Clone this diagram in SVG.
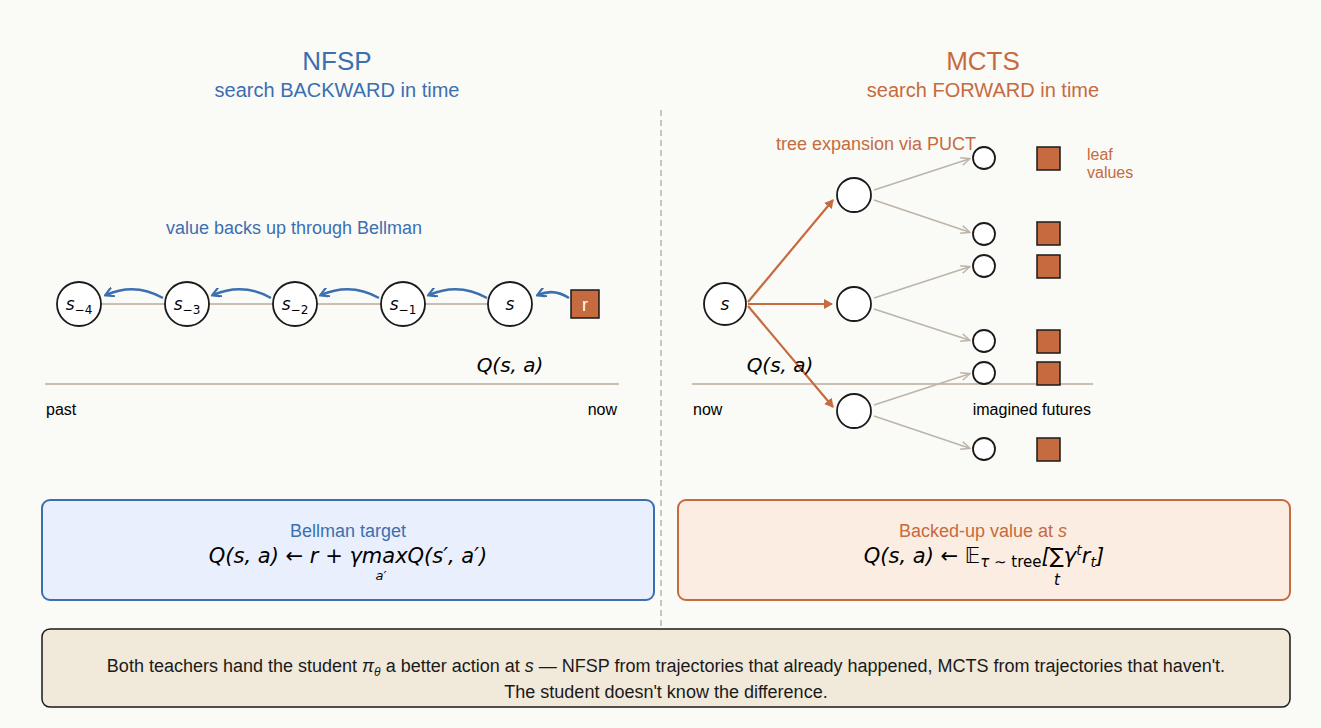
<svg xmlns="http://www.w3.org/2000/svg" width="1321" height="728" viewBox="0 0 1321 728">
<style>
text{font-family:"Liberation Sans",Arial,sans-serif}
.m{font-family:"DejaVu Sans",sans-serif;font-style:italic}
.blue{fill:#3b6fb0}.or{fill:#c66a40}
.n{fill:#fff;stroke:#1a1a1a;stroke-width:1.8}
.sq{fill:#c66a40;stroke:#1a1a1a;stroke-width:1.5}
.bl{stroke:#3b6fb0;stroke-width:2.5;fill:none;marker-end:url(#ab)}
.ol{stroke:#c66a40;stroke-width:2.2;fill:none;marker-end:url(#ao)}
.gl{stroke:#bdb4a8;stroke-width:1.5;fill:none;marker-end:url(#ag)}
</style>
<defs>
<marker id="ab" markerWidth="10" markerHeight="10" refX="8" refY="5" orient="auto" markerUnits="userSpaceOnUse"><path d="M0,0 L9,5 L0,10" fill="none" stroke="#3b6fb0" stroke-width="2.2"/></marker>
<marker id="ao" markerWidth="10" markerHeight="10" refX="8" refY="5" orient="auto" markerUnits="userSpaceOnUse"><path d="M0,0 L9,5 L0,10 z" fill="#c66a40"/></marker>
<marker id="ag" markerWidth="10" markerHeight="10" refX="8" refY="5" orient="auto" markerUnits="userSpaceOnUse"><path d="M0,1 L9,5 L0,9" fill="none" stroke="#bdb4a8" stroke-width="1.5"/></marker>
</defs>
<rect width="1321" height="728" fill="#fafaf6"/>
<text x="337" y="70" font-size="26" text-anchor="middle" class="blue">NFSP</text>
<text x="337" y="97" font-size="20" text-anchor="middle" class="blue">search BACKWARD in time</text>
<text x="983" y="70" font-size="26" text-anchor="middle" class="or">MCTS</text>
<text x="983" y="97" font-size="20" text-anchor="middle" class="or">search FORWARD in time</text>
<line x1="661" y1="110" x2="661" y2="628" stroke="#b5b5b5" stroke-width="1.5" stroke-dasharray="6,4"/>
<text x="294" y="234" font-size="18" text-anchor="middle" class="blue">value backs up through Bellman</text>
<text x="876" y="150" font-size="18" text-anchor="middle" class="or">tree expansion via PUCT</text>
<text x="1087" y="160" font-size="16" class="or">leaf</text>
<text x="1087" y="178" font-size="16" class="or">values</text>
<g id="connectors">
<line x1="101" y1="304" x2="488" y2="304" stroke="#c9c0b2" stroke-width="2"/>
<path class="bl" d="M163,298 Q135,282 106,295"/>
<path class="bl" d="M271,298 Q243,282 213,295"/>
<path class="bl" d="M379,298 Q351,282 321,295"/>
<path class="bl" d="M487,298 Q459,282 429,295"/>
<path class="bl" d="M569,298 Q554,288 538,295"/>
<line x1="45" y1="384" x2="619" y2="384" stroke="#c9c0b2" stroke-width="2"/>
<line x1="692" y1="384" x2="1093" y2="384" stroke="#c9c0b2" stroke-width="2"/>
<line class="ol" x1="748" y1="302" x2="833" y2="200"/>
<line class="ol" x1="748" y1="304" x2="832" y2="304"/>
<line class="ol" x1="748" y1="306" x2="833" y2="407"/>
<line class="gl" x1="874" y1="190" x2="969" y2="159"/>
<line class="gl" x1="874" y1="200" x2="969" y2="232"/>
<line class="gl" x1="874" y1="298" x2="969" y2="267"/>
<line class="gl" x1="874" y1="309" x2="969" y2="340"/>
<line class="gl" x1="874" y1="405" x2="969" y2="374"/>
<line class="gl" x1="874" y1="416" x2="969" y2="448"/>
</g>
<g id="s-4"><circle class="n" cx="79" cy="304" r="22"/><text class="m" x="79" y="310" font-size="17" text-anchor="middle">s<tspan font-size="12" dy="4" font-style="normal">−4</tspan></text></g>
<g id="s-3"><circle class="n" cx="187" cy="304" r="22"/><text class="m" x="187" y="310" font-size="17" text-anchor="middle">s<tspan font-size="12" dy="4" font-style="normal">−3</tspan></text></g>
<g id="s-2"><circle class="n" cx="295" cy="304" r="22"/><text class="m" x="295" y="310" font-size="17" text-anchor="middle">s<tspan font-size="12" dy="4" font-style="normal">−2</tspan></text></g>
<g id="s-1"><circle class="n" cx="403" cy="304" r="22"/><text class="m" x="403" y="310" font-size="17" text-anchor="middle">s<tspan font-size="12" dy="4" font-style="normal">−1</tspan></text></g>
<g id="s"><circle class="n" cx="510" cy="304" r="22"/><text class="m" x="510" y="310" font-size="17" text-anchor="middle">s</text></g>
<g id="r"><rect class="sq" x="571" y="290" width="28" height="28"/><text x="585" y="311" font-size="18" fill="#fff" text-anchor="middle">r</text></g>
<text class="m" x="510" y="372" font-size="20" text-anchor="middle">Q(s, a)</text>
<text x="46" y="415" font-size="16">past</text>
<text x="617" y="415" font-size="16" text-anchor="end">now</text>
<g id="root"><circle class="n" cx="725" cy="304" r="21"/><text class="m" x="725" y="310" font-size="17" text-anchor="middle">s</text></g>
<g id="c1"><circle class="n" cx="854" cy="195" r="17"/></g>
<g id="c2"><circle class="n" cx="854" cy="304" r="17"/></g>
<g id="c3"><circle class="n" cx="854" cy="411" r="17"/></g>
<g id="leaves">
<circle class="n" cx="984" cy="158" r="11"/><rect class="sq" x="1037" y="147" width="23" height="23"/>
<circle class="n" cx="984" cy="234" r="11"/><rect class="sq" x="1037" y="222" width="23" height="23"/>
<circle class="n" cx="984" cy="266" r="11"/><rect class="sq" x="1037" y="255" width="23" height="23"/>
<circle class="n" cx="984" cy="341" r="11"/><rect class="sq" x="1037" y="330" width="23" height="23"/>
<circle class="n" cx="984" cy="373" r="11"/><rect class="sq" x="1037" y="362" width="23" height="23"/>
<circle class="n" cx="984" cy="449" r="11"/><rect class="sq" x="1037" y="438" width="23" height="23"/>
</g>
<text class="m" x="780" y="372" font-size="20" text-anchor="middle">Q(s, a)</text>
<text x="693" y="415" font-size="16">now</text>
<text x="1091" y="415" font-size="16" text-anchor="end">imagined futures</text>
<g id="bellman">
<rect x="42" y="500" width="612" height="100" rx="8" fill="#e9effc" stroke="#3b6fb0" stroke-width="2"/>
<text x="348" y="537" font-size="18" text-anchor="middle" class="blue">Bellman target</text>
<text class="m" x="348" y="563" font-size="21" text-anchor="middle">Q(s, a) ← r + γmaxQ(s′, a′)</text>
<text class="m" x="381" y="580" font-size="13" text-anchor="middle">a′</text>
</g>
<g id="mcts">
<rect x="678" y="500" width="612" height="100" rx="8" fill="#fcede2" stroke="#c66a40" stroke-width="2"/>
<text x="983" y="537" font-size="18" text-anchor="middle" class="or">Backed-up value at <tspan font-style="italic">s</tspan></text>
<text class="m" x="984" y="563" font-size="21" text-anchor="middle">Q(s, a) ← 𝔼<tspan font-size="15" dy="4">τ ∼ </tspan><tspan font-size="15" font-style="normal">tree</tspan><tspan dy="-4">[∑γ<tspan font-size="14" dy="-8">t</tspan><tspan dy="8">r</tspan><tspan font-size="14" dy="4">t</tspan><tspan dy="-4">]</tspan></tspan></text>
<text class="m" x="1057" y="585" font-size="15" text-anchor="middle">t</text>
</g>
<g id="footer">
<rect x="42" y="629" width="1248" height="78" rx="8" fill="#f1e9d9" stroke="#1a1a1a" stroke-width="1.5"/>
<text x="666" y="672" font-size="18" text-anchor="middle" fill="#1a1a1a">Both teachers hand the student <tspan font-style="italic">π<tspan font-size="12" dy="4">θ</tspan></tspan><tspan dy="-4"> a better action at </tspan><tspan font-style="italic">s</tspan> — NFSP from trajectories that already happened, MCTS from trajectories that haven't.</text>
<text x="666" y="698" font-size="18" text-anchor="middle" fill="#1a1a1a">The student doesn't know the difference.</text>
</g>
</svg>
